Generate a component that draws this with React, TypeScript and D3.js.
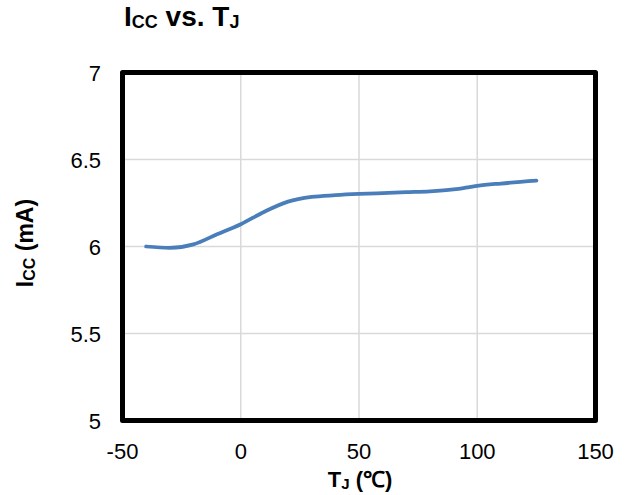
import React from "react";
import * as d3 from "d3";

const temps = [-40, -30, -20, -10, 0, 10, 20, 30, 40, 50, 60, 70, 80, 90, 100, 110, 125];
const icc = [6.0, 5.992, 6.012, 6.07, 6.128, 6.2, 6.258, 6.285, 6.295, 6.302, 6.307, 6.312, 6.317, 6.328, 6.349, 6.362, 6.378];
const xTicks = [-50, 0, 50, 100, 150];
const yTicks = [5, 5.5, 6, 6.5, 7];

const W = 628, H = 495;
const left = 122.5, right = 595.5, top = 72.5, bottom = 420.5;

export default function App() {
  const x = d3.scaleLinear().domain([-50, 150]).range([left, right]);
  const y = d3.scaleLinear().domain([5, 7]).range([bottom, top]);
  const line = d3
    .line<number>()
    .x((_, i) => x(temps[i]))
    .y((d) => y(d))
    .curve(d3.curveMonotoneX);
  const font = "'Liberation Sans', Arial, sans-serif";
  return (
    <svg width={W} height={H} style={{ position: "absolute", left: 0, top: 0 }} fontFamily={font}>
      <rect width={W} height={H} fill="#fff" />
      {xTicks.slice(1, -1).map((t) => (
        <line key={"gx" + t} x1={x(t)} x2={x(t)} y1={top} y2={bottom} stroke="#d9d9d9" strokeWidth={1.5} />
      ))}
      {yTicks.slice(1, -1).map((t) => (
        <line key={"gy" + t} x1={left} x2={right} y1={y(t)} y2={y(t)} stroke="#d9d9d9" strokeWidth={1.5} />
      ))}
      <path d={line(icc) || ""} fill="none" stroke="#4a7ebb" strokeWidth={3.75} strokeLinecap="round" />
      <rect x={left} y={top} width={right - left} height={bottom - top} fill="none" stroke="#000" strokeWidth={5} strokeLinejoin="round" />
      {xTicks.map((t) => (
        <text key={"tx" + t} x={x(t)} y={459} textAnchor="middle" fontSize={22} fill="#000">
          {t}
        </text>
      ))}
      {yTicks.map((t) => (
        <text key={"ty" + t} x={101} y={y(t) + 8} textAnchor="end" fontSize={22} fill="#000">
          {t}
        </text>
      ))}
      <text x={124} y={26} fontSize={28} fontWeight="bold" fill="#000">
        I<tspan fontSize={18} dy={1.5}>CC</tspan>
        <tspan fontSize={28} dy={-1.5}> vs. T</tspan>
        <tspan fontSize={18} dy={1.5}>J</tspan>
      </text>
      <text transform="translate(33,243) rotate(-90)" textAnchor="middle" fontSize={23} fontWeight="bold" fill="#000">
        I<tspan fontSize={16} dy={1.5}>CC</tspan>
        <tspan fontSize={23} dy={-1.5}> (mA)</tspan>
      </text>
      <text x={360} y={487} textAnchor="middle" fontSize={22} fontWeight="bold" fill="#000">
        T<tspan fontSize={15} dy={1.5}>J</tspan>
        <tspan fontSize={22} dy={-1.5}> (℃)</tspan>
      </text>
    </svg>
  );
}
